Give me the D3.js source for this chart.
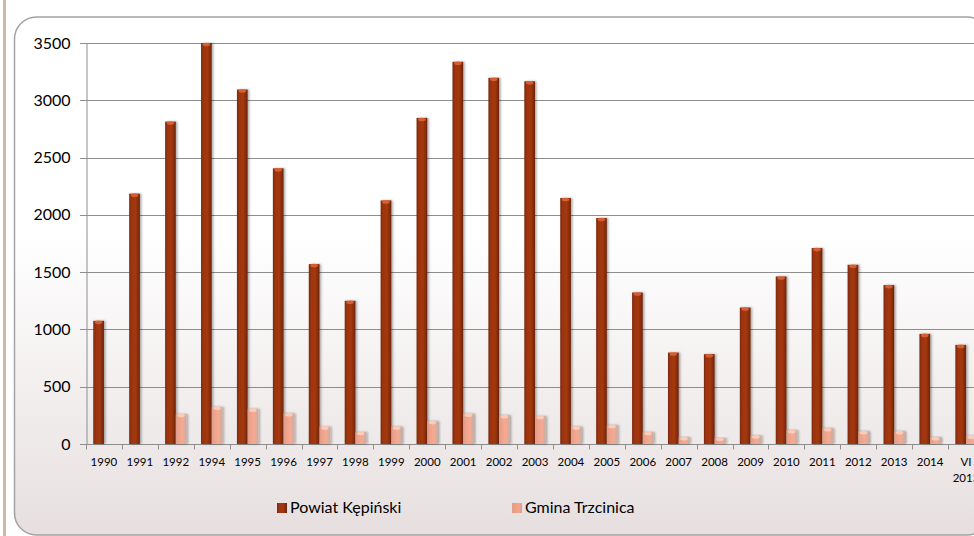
<!DOCTYPE html>
<html>
<head>
<meta charset="utf-8">
<script src="https://cdn.jsdelivr.net/npm/d3@7"></script>
<style>
  html, body { margin: 0; padding: 0; background: #fff; }
  svg { display: block; font-family: Lato, "Open Sans", sans-serif; }
</style>
</head>
<body>
<div id="chart"></div>
<script>
// chart data
const years = ["1990", "1991", "1992", "1994", "1995", "1996", "1997", "1998", "1999", "2000",
  "2001", "2002", "2003", "2004", "2005", "2006", "2007", "2008", "2009", "2010",
  "2011", "2012", "2013", "2014", "VI 2015"];
const powiat = [1075, 2185, 2814, 3500, 3094, 2406, 1570, 1250, 2126, 2846,
  3336, 3196, 3166, 2147, 1972, 1322, 798, 784, 1191, 1462,
  1710, 1564, 1387, 961, 865];
const gmina = [0, 0, 262, 325, 308, 268, 152, 105, 152, 200,
  265, 252, 245, 152, 165, 105, 60, 55, 75, 120,
  138, 112, 112, 60, 72];
const seriesNames = ["Powiat Kępiński", "Gmina Trzcinica"];
const yTicks = [0, 500, 1000, 1500, 2000, 2500, 3000, 3500];

const width = 974, height = 536;
const plot = { left: 86, right: 984, top: 43, bottom: 444 };

const svg = d3.select("#chart").append("svg")
  .attr("width", width)
  .attr("height", height);

const defs = svg.append("defs");

// background gradient of the chart frame
const bg = defs.append("linearGradient").attr("id", "bg")
  .attr("x1", 0).attr("y1", 0).attr("x2", 0).attr("y2", 1);
bg.append("stop").attr("offset", "0%").attr("stop-color", "#ffffff");
bg.append("stop").attr("offset", "42%").attr("stop-color", "#ffffff");
bg.append("stop").attr("offset", "100%").attr("stop-color", "#e7dfdf");

// cylinder-ish shading for the bars
function barGradient(id, stops) {
  const g = defs.append("linearGradient").attr("id", id)
    .attr("x1", 0).attr("y1", 0).attr("x2", 1).attr("y2", 0);
  stops.forEach(s => g.append("stop").attr("offset", s[0]).attr("stop-color", s[1]));
}
barGradient("redBar", [["0%", "#7c2a0e"], ["25%", "#9e3512"], ["60%", "#a4380f"], ["100%", "#6e250c"]]);
barGradient("pinkBar", [["0%", "#d9a08e"], ["30%", "#f39c80"], ["65%", "#f5a48a"], ["100%", "#c8a59a"]]);

const shadow = defs.append("filter").attr("id", "shadow")
  .attr("x", "-50%").attr("y", "-10%").attr("width", "200%").attr("height", "120%");
shadow.append("feDropShadow")
  .attr("dx", 1.5).attr("dy", 0).attr("stdDeviation", 1.2)
  .attr("flood-color", "#000").attr("flood-opacity", 0.35);

// left beige stripe
svg.append("rect")
  .attr("x", 3).attr("y", 0)
  .attr("width", 3).attr("height", height)
  .attr("fill", "#cbbba5");

// chart frame (runs off the right edge like the original)
svg.append("rect")
  .attr("x", 14.5).attr("y", 17)
  .attr("width", 975).attr("height", 518)
  .attr("rx", 22).attr("ry", 22)
  .attr("fill", "url(#bg)")
  .attr("stroke", "#a3a3a3")
  .attr("stroke-width", 1.5);

const x0 = d3.scaleBand()
  .domain(years)
  .range([plot.left, plot.right])
  .paddingInner(0).paddingOuter(0);

const x1 = d3.scaleBand()
  .domain([0, 1])
  .range([0, x0.bandwidth()])
  .paddingInner(0).paddingOuter(0.68);

const y = d3.scaleLinear()
  .domain([0, 3500])
  .range([plot.bottom, plot.top]);

// gridlines
svg.append("g")
  .selectAll("line")
  .data(yTicks)
  .enter()
  .append("line")
  .attr("x1", plot.left - 6)
  .attr("x2", plot.right)
  .attr("y1", d => Math.round(y(d)) + 0.5)
  .attr("y2", d => Math.round(y(d)) + 0.5)
  .attr("stroke", "#8e8e8e")
  .attr("stroke-width", 1);

// y axis
const yAxis = svg.append("g")
  .attr("transform", `translate(${plot.left + 0.5},0)`)
  .call(d3.axisLeft(y).tickValues(yTicks).tickSize(0).tickPadding(16).tickFormat(d3.format("d")));
yAxis.select(".domain").attr("stroke", "#8e8e8e");
yAxis.selectAll("text")
  .attr("font-size", "16px")
  .attr("fill", "#000")
  .attr("font-family", "Lato, sans-serif");

// x axis ticks
const xAxis = svg.append("g")
  .attr("transform", `translate(0,${Math.round(plot.bottom) + 0.5})`)
  .call(d3.axisBottom(x0).tickSize(0).tickFormat(""));
xAxis.select(".domain").remove();
xAxis.append("g")
  .selectAll("line")
  .data(d3.range(years.length + 1))
  .enter()
  .append("line")
  .attr("x1", i => Math.round(plot.left + i * x0.step()) + 0.5)
  .attr("x2", i => Math.round(plot.left + i * x0.step()) + 0.5)
  .attr("y1", 0).attr("y2", 5)
  .attr("stroke", "#8e8e8e");

// x labels (multi-line for "VI 2015")
svg.append("g")
  .selectAll("text")
  .data(years)
  .enter()
  .append("text")
  .attr("x", d => x0(d) + x0.bandwidth() / 2)
  .attr("y", 466)
  .attr("text-anchor", "middle")
  .attr("font-size", "11.5px")
  .attr("fill", "#000")
  .each(function(d) {
    const parts = d.split(" ");
    const t = d3.select(this);
    parts.forEach((p, i) => {
      t.append("tspan")
        .attr("x", x0(d) + x0.bandwidth() / 2)
        .attr("dy", i === 0 ? 0 : 16)
        .text(p);
    });
  });

// bars
const groups = svg.append("g")
  .selectAll("g")
  .data(years.map((yr, i) => ({ year: yr, values: [powiat[i], gmina[i]] })))
  .enter()
  .append("g")
  .attr("transform", d => `translate(${x0(d.year)},0)`);

const fills = ["url(#redBar)", "url(#pinkBar)"];
const caps = ["#e0643a", "#fbd2c0"];

groups.selectAll("rect.bar")
  .data(d => d.values.map((v, k) => ({ k, v })).filter(e => e.v > 0))
  .enter()
  .append("rect")
  .attr("class", "bar")
  .attr("x", d => x1(d.k))
  .attr("y", d => y(d.v))
  .attr("width", x1.bandwidth())
  .attr("height", d => y(0) - y(d.v))
  .attr("fill", d => fills[d.k])
  .attr("opacity", d => d.k === 1 ? 0.9 : 1)
  .attr("filter", "url(#shadow)");

// top caps
groups.selectAll("ellipse.cap")
  .data(d => d.values.map((v, k) => ({ k, v })).filter(e => e.v > 0))
  .enter()
  .append("ellipse")
  .attr("class", "cap")
  .attr("cx", d => x1(d.k) + x1.bandwidth() / 2)
  .attr("cy", d => y(d.v) + 1.5)
  .attr("rx", x1.bandwidth() / 2 - 1.5)
  .attr("ry", 1.8)
  .attr("fill", d => caps[d.k])
  .attr("opacity", 0.85);

// legend
const legendItems = [
  { name: seriesNames[0], fill: "url(#redBar)", x: 277 },
  { name: seriesNames[1], fill: "url(#pinkBar)", x: 512 }
];
const legend = svg.append("g")
  .selectAll("g")
  .data(legendItems)
  .enter()
  .append("g")
  .attr("transform", d => `translate(${d.x},503)`);

legend.append("rect")
  .attr("width", 10).attr("height", 10)
  .attr("fill", d => d.fill);

legend.append("text")
  .attr("x", 13)
  .attr("y", 10)
  .attr("font-size", "16px")
  .attr("fill", "#000")
  .text(d => d.name);
</script>
</body>
</html>
